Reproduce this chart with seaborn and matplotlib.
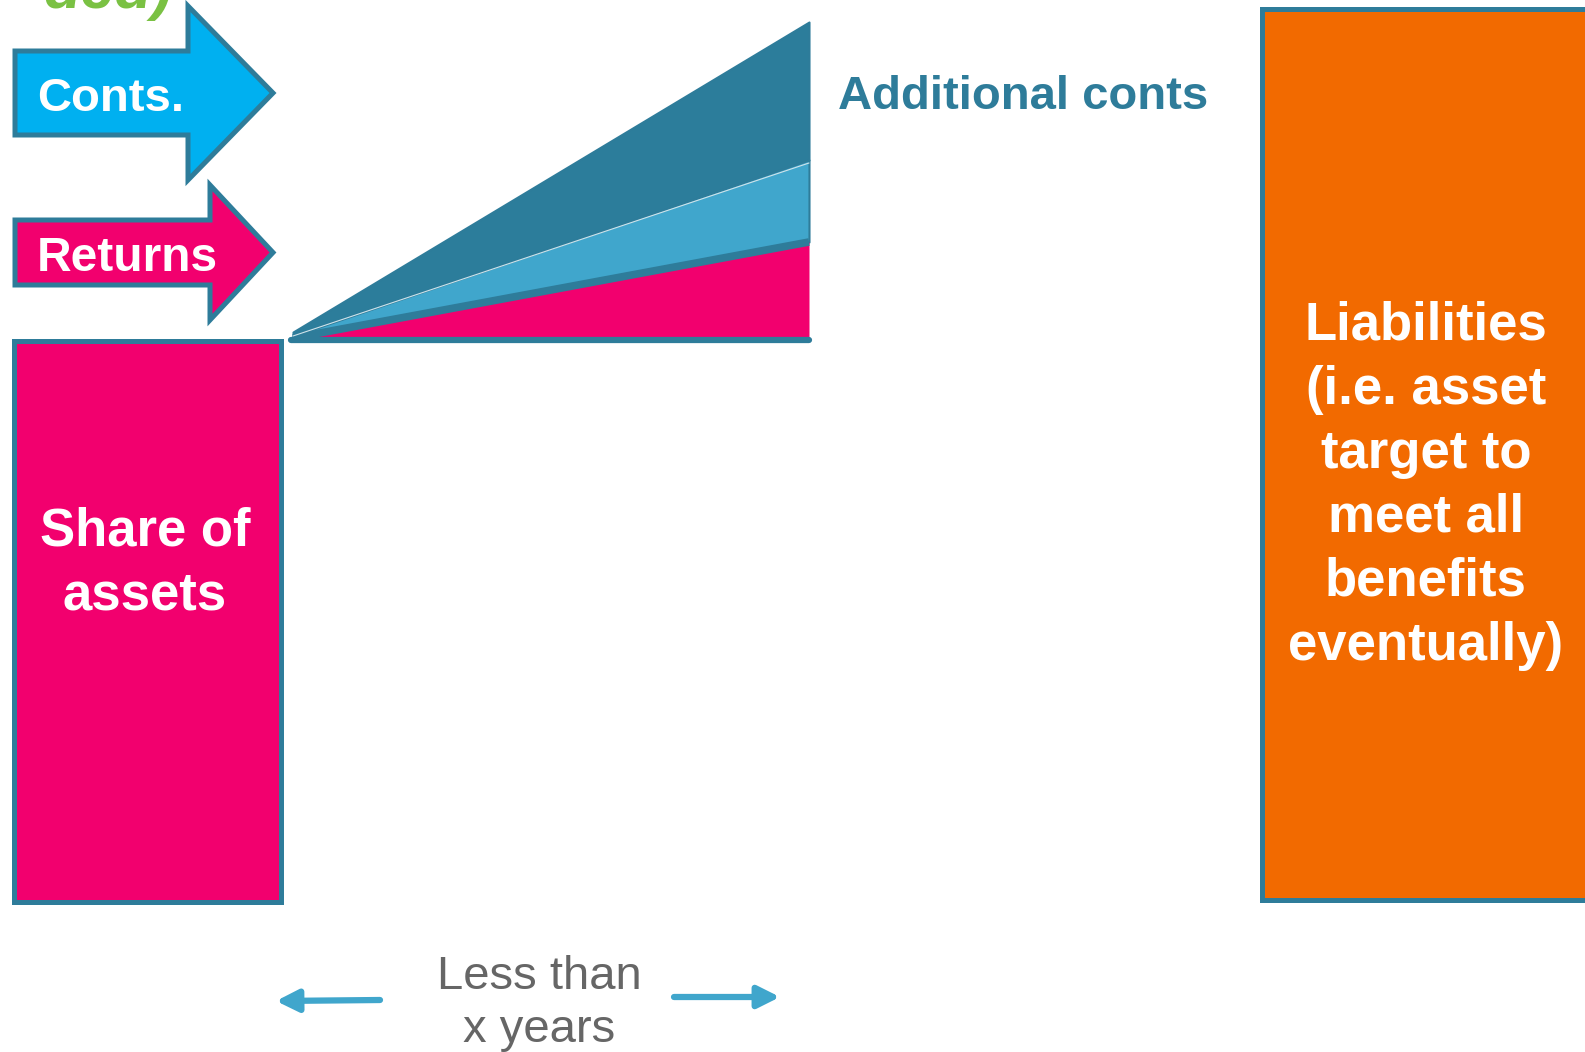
import numpy as np
import matplotlib
matplotlib.use("Agg")
import matplotlib.pyplot as plt
from matplotlib.patches import Polygon
import seaborn as sns

sns.set_theme(style="white")
plt.rcParams['font.family'] = ['Liberation Sans', 'DejaVu Sans']

# ---------------- data ----------------
box_labels = ["Share of\nassets",
              "Liabilities\n(i.e. asset\ntarget to\nmeet all\nbenefits\neventually)"]
box_values = [561, 891]                       # bar heights (pixels of the schematic)
arrow_labels = ["Conts.", "Returns"]
wedge_layers = ["Returns", "Conts.", "Additional conts"]
wedge_years = np.array([0.0, 1.0])            # start / end of the period
returns_growth = np.array([2.0, 98.0])
conts_growth = np.array([2.0, 82.0])
additional_growth = np.array([4.0, 138.0])
period_label = "Less than\nx years"
wedge_label = "Additional conts"
title_tail = "ded)"

# ---------------- styles ----------------
TEAL = "#2E7C9A"
CYAN = "#00B0F0"
PINK = "#F2006E"
ORANGE = "#F26A00"
LIGHTBLUE = "#40A6CC"
DARK = "#2C7D9B"
GREEN = "#7AC143"
GRAY = "#666666"

W, H = 1585, 1052
fig = plt.figure(figsize=(W / 100, H / 100), dpi=100)
ax = fig.add_axes([0, 0, 1, 1])
ax.set_xlim(0, W)
ax.set_ylim(H, 0)
ax.axis("off")

# cut-off green title at top (only the bottom of the glyphs is visible)
ax.text(172, 8, title_tail, color=GREEN, fontsize=44, fontweight="bold",
        fontstyle="italic", ha="right", va="baseline")

# ---------------- arrows (Conts., Returns) ----------------
def block_arrow(left, top, bottom, head_x, head_top, head_bottom, tip_x, fill):
    mid = (top + bottom) / 2
    pts = [(left, top), (head_x, top), (head_x, head_top), (tip_x, mid),
           (head_x, head_bottom), (head_x, bottom), (left, bottom)]
    ax.add_patch(Polygon(pts, closed=True, facecolor=fill, edgecolor=TEAL,
                         linewidth=3.6, joinstyle="miter"))

block_arrow(15, 51, 135, 188, 6, 180, 273, CYAN)
block_arrow(15, 220, 285, 210, 185, 320, 273, PINK)
ax.text(37, 111, arrow_labels[0], color="white", fontsize=34,
        fontweight="bold", ha="left", va="baseline")
ax.text(37, 271, arrow_labels[1], color="white", fontsize=34.5,
        fontweight="bold", ha="left", va="baseline")

# ---------------- boxes ----------------
ax.bar([14], [-box_values[0]], bottom=902, width=267, align="edge",
       color=PINK, edgecolor=TEAL, linewidth=3.6)
ax.bar([1262], [-box_values[1]], bottom=900, width=400, align="edge",
       color=ORANGE, edgecolor=TEAL, linewidth=3.6, clip_on=False)

share_lines = box_labels[0].split("\n")
for i, line in enumerate(share_lines):
    ax.text(145, 546 + i * 63, line, color="white", fontsize=38,
            fontweight="bold", ha="center", va="baseline")
liab_lines = box_labels[1].split("\n")
for i, line in enumerate(liab_lines):
    ax.text(1426, 340 + i * 64, line, color="white", fontsize=38,
            fontweight="bold", ha="center", va="baseline")

# ---------------- wedge (stacked growth) ----------------
x_left, x_right, base = 293, 809, 340
wx = x_left + wedge_years * (x_right - x_left)
c1 = base - returns_growth
c2 = c1 - conts_growth
c3 = c2 - additional_growth
ax.fill_between(wx, c2, c3, color=DARK, edgecolor=TEAL, linewidth=1.5)
ax.fill_between(wx, c1, c2, color=LIGHTBLUE, edgecolor=TEAL, linewidth=1.5)
ax.fill_between(wx, base, c1, color=PINK, linewidth=0)
ax.plot(wx, c1, color=TEAL, linewidth=5.5, solid_capstyle="butt")
ax.plot(wx, c2 + np.array([0, 3]), color="#CFE3EA", linewidth=0.8)
ax.plot([291, x_right], [base, base], color=TEAL, linewidth=4.5,
        solid_capstyle="round")
ax.text(838, 109, wedge_label, color=TEAL, fontsize=34, fontweight="bold",
        ha="left", va="baseline")

# ---------------- period arrows ----------------
ax.annotate("", xy=(276, 1001), xytext=(380, 1000),
            arrowprops=dict(arrowstyle="-|>,head_length=1.1,head_width=0.55",
                            color=LIGHTBLUE, lw=4.5, shrinkA=0, shrinkB=0))
ax.annotate("", xy=(780, 997), xytext=(674, 997),
            arrowprops=dict(arrowstyle="-|>,head_length=1.1,head_width=0.55",
                            color=LIGHTBLUE, lw=4.5, shrinkA=0, shrinkB=0))
p_lines = period_label.split("\n")
for i, line in enumerate(p_lines):
    ax.text(539, 989 + i * 53, line, color=GRAY, fontsize=34,
            ha="center", va="baseline")

fig.savefig("out.png", dpi=100)
